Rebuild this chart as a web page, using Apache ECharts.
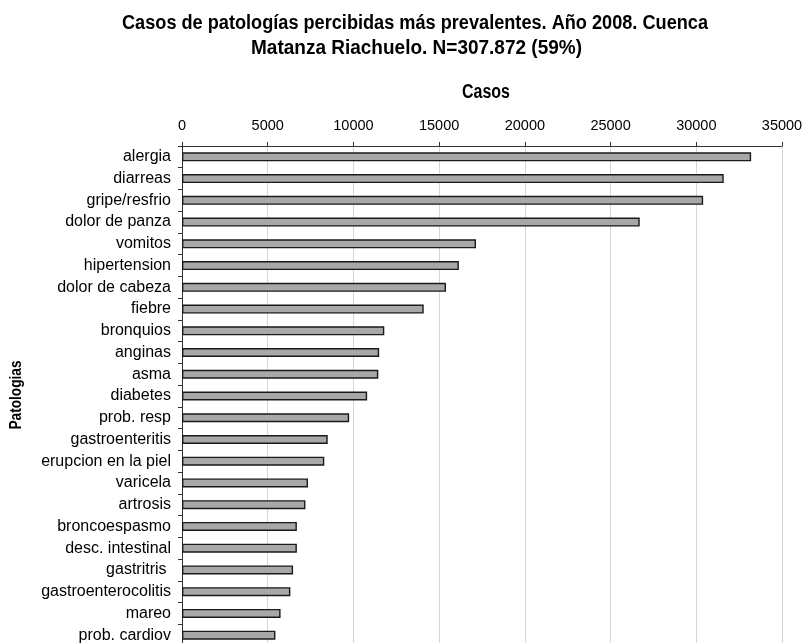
<!DOCTYPE html>
<html>
<head>
<meta charset="utf-8">
<script src="https://cdn.jsdelivr.net/npm/echarts@6/dist/echarts.min.js"></script>
<style>
html,body{margin:0;padding:0;background:#fff;}
#chart{width:806px;height:643px;}
</style>
</head>
<body>
<div id="chart"></div>
<script>
const titleLines = ["Casos de patologías percibidas más prevalentes. Año 2008. Cuenca", "Matanza Riachuelo. N=307.872 (59%)"];
const xAxisTitle = "Casos";
const yAxisTitle = "Patologias";
const categories = ["alergia", "diarreas", "gripe/resfrio", "dolor de panza", "vomitos", "hipertension", "dolor de cabeza", "fiebre", "bronquios", "anginas", "asma", "diabetes", "prob. resp", "gastroenteritis", "erupcion en la piel", "varicela", "artrosis", "broncoespasmo", "desc. intestinal", "gastritris ", "gastroenterocolitis", "mareo", "prob. cardiov"];
const casos = [33200, 31600, 30400, 26700, 17150, 16150, 15400, 14100, 11800, 11500, 11450, 10800, 9750, 8500, 8300, 7350, 7200, 6700, 6700, 6480, 6320, 5750, 5450];
const xMin = 0, xMax = 35000, xStep = 5000;

const regular = "'Liberation Sans', Arial, Helvetica, sans-serif";
const boldFam = "'Liberation Sans', Arial, Helvetica, sans-serif";

// horizontal condensing factor so bold text mimics a condensed face
const measurer = document.createElement('canvas').getContext('2d');
function condenseFactor(text, size, targetWidth) {
  measurer.font = 'bold ' + size + 'px ' + boldFam;
  return targetWidth / measurer.measureText(text).width;
}
const titleScale1 = condenseFactor(titleLines[0], 20, 586);
const titleScale2 = condenseFactor(titleLines[1], 20, 331);
const casosScale = condenseFactor(xAxisTitle, 20, 48);
const patScale = condenseFactor(yAxisTitle, 16.5, 69);

function condText(x, y, text, size, sx, rot) {
  return {
    type: 'text', x: x, y: y, scaleX: sx, rotation: rot || 0,
    style: {text: text, fontFamily: boldFam, fontWeight: 'bold', fontSize: size, fill: '#000',
            textAlign: 'center', textVerticalAlign: 'middle'}
  };
}

const chart = echarts.init(document.getElementById('chart'), null, {renderer: 'canvas'});
chart.setOption({
  animation: false,
  backgroundColor: '#ffffff',
  graphic: [
    condText(415, 23.5, titleLines[0], 20, titleScale1),
    condText(416.5, 48, titleLines[1], 20, titleScale2),
    condText(486, 92, xAxisTitle, 20, casosScale),
    condText(16, 395, yAxisTitle, 16.5, patScale, Math.PI / 2)
  ],
  grid: {left: 182, top: 146, width: 600, height: 500, containLabel: false, outerBoundsMode: 'none'},
  xAxis: {
    type: 'value', position: 'top', min: xMin, max: xMax, interval: xStep,
    axisLine: {show: true, lineStyle: {color: '#333', width: 1}},
    axisTick: {show: true, length: 4, lineStyle: {color: '#333'}},
    axisLabel: {fontFamily: regular, fontSize: 14.5, color: '#000', margin: 13, formatter: function (v) { return String(v); }},
    splitLine: {show: true, lineStyle: {color: '#d6d6d6', width: 1}}
  },
  yAxis: {
    type: 'category', data: categories, inverse: true,
    axisLine: {show: true, lineStyle: {color: '#333', width: 1}},
    axisTick: {show: true, length: 4, lineStyle: {color: '#333'}},
    axisLabel: {fontFamily: regular, fontSize: 16, color: '#000', margin: 11},
    splitLine: {show: false}
  },
  series: [{
    type: 'bar', data: casos, barWidth: 9,
    itemStyle: {color: '#a7a8ac', borderColor: '#1a1a1a', borderWidth: 1.4}
  }]
});
</script>
</body>
</html>
